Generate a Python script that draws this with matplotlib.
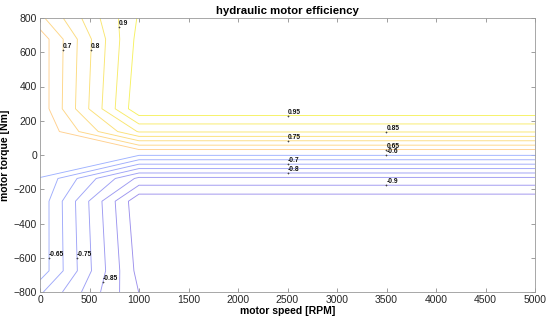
import numpy as np
import matplotlib
matplotlib.use("Agg")
import matplotlib.pyplot as plt
from matplotlib.colors import to_hex

# ---- data ----
speed_rpm = [0, 1000, 5000]
torque_nm = [-800, -676, -270, -137, -1, 1, 137, 270, 676, 800]
eff_at_0rpm = [-0.691, -0.618, -0.616, -0.603, -0.53, 0.55, 0.600, 0.616, 0.618, 0.687]
eff_at_1000rpm = [-0.951, -0.968, -0.990, -0.862, -0.598, 0.59, 0.855, 0.990, 0.968, 0.956]
eff_at_5000rpm = [-0.951, -0.968, -0.990, -0.862, -0.598, 0.59, 0.855, 0.990, 0.968, 0.956]

neg_levels = [-0.95, -0.9, -0.85, -0.8, -0.75, -0.7, -0.65, -0.6]
pos_levels = [0.65, 0.7, 0.75, 0.8, 0.85, 0.9, 0.95]

x_ticks = [0, 500, 1000, 1500, 2000, 2500, 3000, 3500, 4000, 4500, 5000]
y_ticks = [-800, -600, -400, -200, 0, 200, 400, 600, 800]

title = "hydraulic motor efficiency"
xlabel = "motor speed [RPM]"
ylabel = "motor torque [Nm]"

# ---- figure ----
plt.rcParams['font.family'] = ['Liberation Sans', 'DejaVu Sans']
fig = plt.figure(figsize=(5.5, 3.24), dpi=100)
ax = fig.add_axes([40 / 550, 1 - 292 / 324, 495 / 550, 274 / 324])

Z = np.column_stack([eff_at_0rpm, eff_at_1000rpm, eff_at_5000rpm])
levels = neg_levels + pos_levels

def mix(c1, c2, t):
    c1 = np.array(matplotlib.colors.to_rgb(c1))
    c2 = np.array(matplotlib.colors.to_rgb(c2))
    return to_hex(c1 + (c2 - c1) * t)

neg_cols = [mix('#9c90ec', '#9fb2ff', i / (len(neg_levels) - 1)) for i in range(len(neg_levels))]
pos_cols = [mix('#ffd08e', '#f6f160', i / (len(pos_levels) - 1)) for i in range(len(pos_levels))]
colors = neg_cols + pos_cols

cs = ax.contour(speed_rpm, torque_nm, Z, levels=levels, colors=colors, linewidths=0.65)

label_spots = [(225, 613), (502, 613), (800, 748), (2500, 235), (2500, 82),
               (3500, 134), (3500, 32), (3500, -2), (2500, -50), (2500, -100),
               (3500, -176), (91, -602), (360, -602), (626, -739)]
texts = ax.clabel(cs, manual=label_spots, inline=False, fmt='%g', fontsize=4.8)
for t in texts:
    t.set_rotation(0)
    t.set_ha('left')
    t.set_va('bottom')
    t.set_color('#111111')
    t.set_fontweight('bold')
    px, py = t.get_position()
    ax.plot(px, py, marker='+', color='#444444', markersize=2.0, markeredgewidth=0.5)

ax.set_xlim(0, 5000)
ax.set_ylim(-800, 800)
ax.set_xticks(x_ticks)
ax.set_yticks(y_ticks)
ax.tick_params(direction='in', length=3, width=0.5, top=True, right=True,
               labelsize=7.5, colors='#777777', labelcolor='#262626', pad=2)
for s in ax.spines.values():
    s.set_color('#999999')
    s.set_linewidth(0.6)

ax.set_xlabel(xlabel, fontsize=7.5, fontweight='bold', labelpad=1)
ax.set_ylabel(ylabel, fontsize=7.5, fontweight='bold', labelpad=3)
ax.set_title(title, fontsize=8.2, fontweight='bold', pad=3)

fig.savefig("out.png", dpi=100)
